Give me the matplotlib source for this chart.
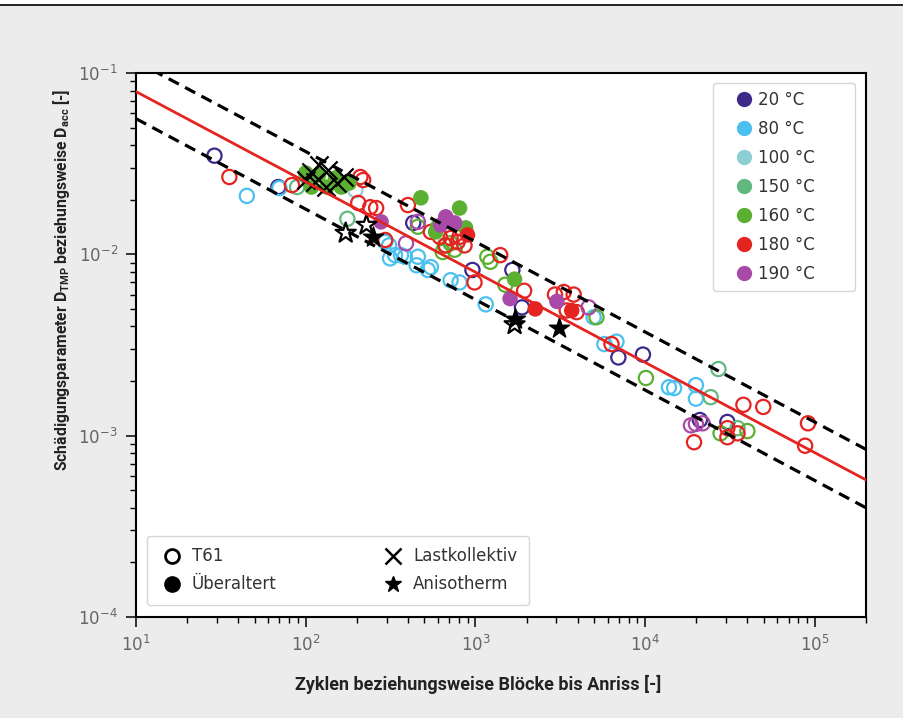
import matplotlib

matplotlib.use("Agg")
import matplotlib.pyplot as plt
from matplotlib.lines import Line2D
from matplotlib.patches import Rectangle

plt.rcParams["font.family"] = ["DejaVu Sans"]

# temperatures and colours
temps = ["20 °C", "80 °C", "100 °C", "150 °C", "160 °C", "180 °C", "190 °C"]
temp_colors = ["#3b2a8a", "#4cc1ef", "#8ccfd2", "#62b97f", "#5bb031", "#e42420", "#a94aa8"]

# T61 (open circles): cycles N and damage parameter D
n_t61_20 = [29, 69, 430, 960, 1650, 1880, 6950, 9700, 21000, 30500]
d_t61_20 = [0.035, 0.0235, 0.0149, 0.0082, 0.0082, 0.0051, 0.0027, 0.0028, 0.00122, 0.00119]

n_t61_80 = [45, 70, 294, 310, 314, 336, 364, 384, 458, 450, 524, 546, 714, 806, 1150,
            4970, 5750, 6770, 13800, 14800, 19900, 19900]
d_t61_80 = [0.021, 0.0232, 0.0117, 0.0112, 0.0095, 0.0099, 0.0099, 0.0097, 0.0097, 0.0087,
            0.0082, 0.0085, 0.0072, 0.0070, 0.0053, 0.0045, 0.0032, 0.0033, 0.00185, 0.00183,
            0.0019, 0.0016]

n_t61_100 = [196]
d_t61_100 = [0.0226]

n_t61_150 = [89, 176, 27000, 24300, 35000]
d_t61_150 = [0.0235, 0.0157, 0.00233, 0.00163, 0.0011]

n_t61_160 = [458, 660, 714, 641, 754, 1175, 1224, 1500, 5165, 10100, 27800, 40000]
d_t61_160 = [0.0142, 0.0112, 0.0115, 0.0103, 0.0106, 0.0097, 0.0091, 0.0068, 0.0045,
             0.00208, 0.00103, 0.00106]

n_t61_180 = [35.5, 83, 210, 218, 204, 240, 260, 294, 400, 546, 616, 714, 785, 862, 806, 668,
             1400, 987, 1935, 2940, 3315, 3790, 3450, 3950, 6330, 37900, 49600, 91000, 87500,
             19400, 30500, 30500, 35000]
d_t61_180 = [0.0267, 0.0241, 0.0267, 0.0257, 0.0192, 0.0182, 0.0180, 0.0120, 0.0187, 0.0133,
             0.0125, 0.0123, 0.0117, 0.0112, 0.0125, 0.0112, 0.0099, 0.0070, 0.0063, 0.0060,
             0.0062, 0.0060, 0.0049, 0.0048, 0.0032, 0.00148, 0.00144, 0.00117, 0.00088,
             0.00092, 0.0011, 0.00098, 0.00103]

n_t61_190 = [390, 458, 4640, 18600, 19900, 21800]
d_t61_190 = [0.0115, 0.0151, 0.0051, 0.00114, 0.00116, 0.00117]

# Ueberaltert (filled circles)
n_ua_160 = [477, 806, 583, 600, 875, 1700, 100, 119, 150, 162, 108, 133, 180]
d_ua_160 = [0.0205, 0.0180, 0.0133, 0.0142, 0.0140, 0.0073, 0.0281, 0.0274, 0.0264, 0.0235,
            0.0235, 0.0235, 0.0247]
n_ua_180 = [898, 2250, 3690]
d_ua_180 = [0.0128, 0.0050, 0.0049]
n_ua_190 = [668, 754, 624, 278, 1600, 3020]
d_ua_190 = [0.0161, 0.0149, 0.0145, 0.0151, 0.0057, 0.0055]

# Lastkollektiv (x) and Anisotherm (stars)
n_lk = [107, 136, 114, 152, 167, 131, 101, 119]
d_lk = [0.0284, 0.0292, 0.0251, 0.0247, 0.0267, 0.0235, 0.0257, 0.0311]
n_aniso_open = [172, 228, 1700]
d_aniso_open = [0.0131, 0.0145, 0.0041]
n_aniso_filled = [250, 1700, 3100]
d_aniso_filled = [0.0125, 0.0044, 0.0039]

# fit line and scatter band (end points)
fit_n = [10, 2e5]
fit_d = [0.079, 5.7e-4]
upper_d = [0.116, 8.4e-4]
lower_d = [0.056, 4.0e-4]

open_sets = [
    (n_t61_20, d_t61_20, temp_colors[0]),
    (n_t61_80, d_t61_80, temp_colors[1]),
    (n_t61_100, d_t61_100, temp_colors[2]),
    (n_t61_150, d_t61_150, temp_colors[3]),
    (n_t61_160, d_t61_160, temp_colors[4]),
    (n_t61_180, d_t61_180, temp_colors[5]),
    (n_t61_190, d_t61_190, temp_colors[6]),
]
filled_sets = [
    (n_ua_160, d_ua_160, temp_colors[4]),
    (n_ua_180, d_ua_180, temp_colors[5]),
    (n_ua_190, d_ua_190, temp_colors[6]),
]

fig = plt.figure(figsize=(9.04, 7.18), dpi=100, facecolor="#ececec")
fig.add_artist(Rectangle((0, 1 - 5 / 718), 1, 5 / 718, transform=fig.transFigure,
                         facecolor="white", edgecolor="none"))
fig.add_artist(Line2D([0, 1], [1 - 5 / 718] * 2, transform=fig.transFigure, color="black", lw=1.2))

ax = fig.add_axes([0.1504, 0.1407, 0.8076, 0.7576])
ax.set_facecolor("white")

for n, d, c in open_sets:
    ax.scatter(n, d, s=105, facecolors="none", edgecolors=c, linewidths=1.6, zorder=2)
for n, d, c in filled_sets:
    ax.scatter(n, d, s=125, color=c, edgecolors="none", zorder=2.2)
ax.scatter(n_lk, d_lk, s=170, marker="x", color="black", linewidths=1.6, zorder=2.5)
ax.scatter(n_aniso_open, d_aniso_open, s=230, marker="*", facecolors="none",
           edgecolors="black", linewidths=1.6, zorder=2.5)
ax.scatter(n_aniso_filled, d_aniso_filled, s=230, marker="*", color="black", zorder=2.6)

ax.plot(fit_n, fit_d, color="#e42420", lw=2.0, zorder=3)
ax.plot(fit_n, upper_d, color="black", lw=2.3, ls=(0, (3.6, 2.2)), zorder=3)
ax.plot(fit_n, lower_d, color="black", lw=2.3, ls=(0, (3.6, 2.2)), zorder=3)

ax.set_xscale("log")
ax.set_yscale("log")
ax.set_xlim(10, 2e5)
ax.set_ylim(1e-4, 1e-1)

for sp in ax.spines.values():
    sp.set_linewidth(1.5)
ax.tick_params(which="major", direction="out", length=7, width=1.1, labelsize=12,
               labelcolor="#666666", pad=6)
ax.tick_params(which="minor", direction="out", length=4, width=1.0)

label_font = ["Liberation Sans Narrow", "DejaVu Sans Condensed", "Roboto", "DejaVu Sans"]
ax.set_xlabel("Zyklen beziehungsweise Blöcke bis Anriss [-]", family=label_font,
              fontsize=13, fontweight="bold", color="#222222")
ax.xaxis.set_label_coords(0.468, -0.107)
ax.set_ylabel(r"Schädigungsparameter D$_\mathregular{TMP}$ beziehungsweise D$_\mathregular{acc}$ [-]",
              family=label_font, fontsize=11.3, fontweight="bold", color="#222222")
ax.yaxis.set_label_coords(-0.088, 0.62)

# trailing spaces widen the box like the original legend
temp_labels = [t + "      " for t in temps]
temp_handles = [Line2D([], [], ls="none", marker="o", markersize=11, color=c,
                       markeredgecolor="none") for c in temp_colors]
leg1 = ax.legend(temp_handles, temp_labels, loc="upper right", bbox_to_anchor=(0.985, 0.982),
                 borderaxespad=0, fontsize=12, labelspacing=0.66, handlelength=2.75,
                 handletextpad=-0.5, borderpad=0.5, labelcolor="#333333")
ax.add_artist(leg1)

type_handles = [
    Line2D([], [], ls="none", marker="o", markersize=10, markerfacecolor="none",
           markeredgecolor="black", markeredgewidth=2),
    Line2D([], [], ls="none", marker="o", markersize=11, color="black"),
    Line2D([], [], ls="none", marker="x", markersize=11, color="black", markeredgewidth=1.8),
    Line2D([], [], ls="none", marker="*", markersize=12, color="black"),
]
type_labels = ["T61", "Überaltert", "Lastkollektiv", "Anisotherm"]
ax.legend(type_handles, type_labels, loc="lower left", bbox_to_anchor=(0.015, 0.022),
          borderaxespad=0, ncol=2, fontsize=12, columnspacing=6.2, handlelength=1.6,
          handletextpad=0.4, labelspacing=0.6, borderpad=0.7, labelcolor="#333333")

fig.savefig("out.png", dpi=100, facecolor=fig.get_facecolor())
